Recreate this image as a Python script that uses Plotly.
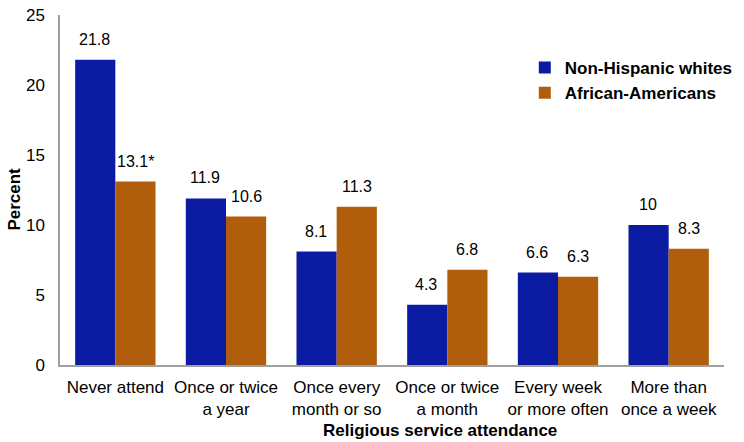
import plotly.graph_objects as go

categories = ["Never attend", "Once or twice<br>a year", "Once every<br>month or so",
              "Once or twice<br>a month", "Every week<br>or more often", "More than<br>once a week"]
whites = [21.8, 11.9, 8.1, 4.3, 6.6, 10.0]
african = [13.1, 10.6, 11.3, 6.8, 6.3, 8.3]
white_labels = ["21.8", "11.9", "8.1", "4.3", "6.6", "10"]
african_labels = ["13.1*", "10.6", "11.3", "6.8", "6.3", "8.3"]
series_names = ["Non-Hispanic whites", "African-Americans"]
colors = ["#0C1CA2", "#B05E0C"]

FONT = "Liberation Sans, Arial, sans-serif"

fig = go.Figure()
fig.add_trace(go.Bar(x=categories, y=whites, name="<b>" + series_names[0] + "</b>",
                     marker=dict(color=colors[0], line=dict(width=0))))
fig.add_trace(go.Bar(x=categories, y=african, name="<b>" + series_names[1] + "</b>",
                     marker=dict(color=colors[1], line=dict(width=0))))

annotations = []
for cat, v, lab in zip(categories, whites, white_labels):
    annotations.append(dict(x=cat, y=v, text=lab, showarrow=False, xshift=-21, yshift=10,
                            yanchor="bottom", font=dict(size=16, color="#000", family=FONT)))
for cat, v, lab in zip(categories, african, african_labels):
    annotations.append(dict(x=cat, y=v, text=lab, showarrow=False, xshift=20, yshift=10,
                            yanchor="bottom", font=dict(size=16, color="#000", family=FONT)))
annotations.append(dict(xref="paper", yref="paper", x=0.572, y=-0.186, text="<b>Religious service attendance</b>",
                        showarrow=False, xanchor="center", yanchor="middle",
                        font=dict(size=17, color="#000", family=FONT)))
annotations.append(dict(xref="paper", yref="paper", x=-0.068, y=0.475, text="<b>Percent</b>",
                        showarrow=False, textangle=-90, xanchor="center", yanchor="middle",
                        font=dict(size=17, color="#000", family=FONT)))

fig.update_layout(
    width=744, height=442,
    margin=dict(l=60, r=6, t=7, b=77),
    paper_bgcolor="white", plot_bgcolor="white",
    barmode="group", bargap=0.274, bargroupgap=0,
    font=dict(family=FONT, size=16, color="#000"),
    showlegend=True,
    legend=dict(x=0.70, y=0.90, xanchor="left", yanchor="top", bgcolor="rgba(0,0,0,0)",
                font=dict(size=17, color="#000", family=FONT), tracegroupgap=0, itemwidth=30),
    annotations=annotations,
)
fig.update_xaxes(showline=True, linecolor="#A0A0A0", linewidth=1.5, showgrid=False, ticks="",
                 ticklabelstandoff=6,
                 tickfont=dict(size=17, color="#000", family=FONT), zeroline=False)
fig.update_yaxes(range=[0, 25], dtick=5, showline=True, linecolor="#A0A0A0", linewidth=1.5,
                 showgrid=False, zeroline=False, ticks="", ticklabelstandoff=10,
                 ticklabeloverflow="allow",
                 tickfont=dict(size=17, color="#000", family=FONT))

fig.write_html("out.html", config={"displayModeBar": False},
               post_script="document.body.style.margin='0';document.body.style.overflow='hidden';")
